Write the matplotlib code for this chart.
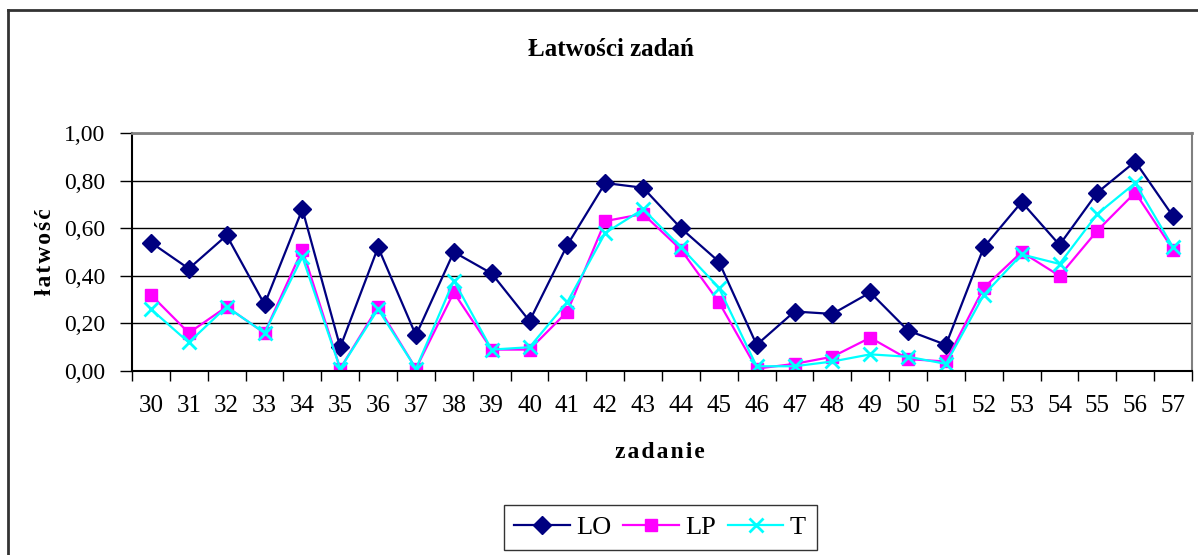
import matplotlib
matplotlib.use("Agg")
import matplotlib.pyplot as plt
from matplotlib.lines import Line2D
from matplotlib.ticker import FuncFormatter, FixedLocator

plt.rcParams["font.family"] = ["Liberation Serif", "DejaVu Serif"]

zadania = [str(n) for n in range(30, 58)]

lo = [0.54, 0.43, 0.57, 0.28, 0.68, 0.10, 0.52, 0.15, 0.50, 0.41,
      0.21, 0.53, 0.79, 0.77, 0.60, 0.46, 0.11, 0.25, 0.24, 0.33,
      0.17, 0.11, 0.52, 0.71, 0.53, 0.75, 0.88, 0.65]
lp = [0.32, 0.16, 0.27, 0.16, 0.51, 0.01, 0.27, 0.01, 0.33, 0.09,
      0.09, 0.25, 0.63, 0.66, 0.51, 0.29, 0.01, 0.03, 0.06, 0.14,
      0.05, 0.04, 0.35, 0.50, 0.40, 0.59, 0.75, 0.51]
t = [0.26, 0.12, 0.27, 0.16, 0.48, 0.01, 0.26, 0.01, 0.38, 0.09,
     0.10, 0.29, 0.58, 0.68, 0.52, 0.35, 0.02, 0.02, 0.04, 0.07,
     0.06, 0.03, 0.32, 0.49, 0.45, 0.66, 0.79, 0.52]

fig = plt.figure(figsize=(11.98, 5.55), dpi=100)
ax = fig.add_axes([0.1102, 0.3315, 0.8848, 0.4288])

x = list(range(len(zadania)))
ax.plot(x, lo, color="#000080", lw=1.6, marker="D", markersize=9, label="LO")
ax.plot(x, lp, color="#FF00FF", lw=1.6, marker="s", markersize=8.5, label="LP")
ax.plot(x, t, color="#00FFFF", lw=1.6, marker="x", markersize=10, mew=2, label="T")

ax.set_xlim(-0.5, len(zadania) - 0.5)
ax.set_ylim(0, 1)
ax.set_yticks([0, 0.2, 0.4, 0.6, 0.8, 1.0])
ax.yaxis.set_major_formatter(FuncFormatter(lambda v, p: ("%.2f" % v).replace(".", ",")))
ax.grid(axis="y", color="black", lw=1)
ax.set_axisbelow(True)

ax.xaxis.set_major_locator(FixedLocator([i - 0.5 for i in range(len(zadania) + 1)]))
ax.xaxis.set_major_formatter(FuncFormatter(lambda v, p: ""))
ax.xaxis.set_minor_locator(FixedLocator(x))
ax.set_xticklabels(zadania, minor=True)
ax.tick_params(axis="x", which="major", length=7, width=1, direction="out")
ax.tick_params(axis="x", which="minor", length=0, pad=17, labelsize=18)
ax.tick_params(axis="y", length=9, width=1, labelsize=17, pad=10)

ax.spines["top"].set_color("#808080")
ax.spines["right"].set_color("#808080")
ax.spines["top"].set_linewidth(2)
ax.spines["right"].set_linewidth(1.5)
ax.spines["left"].set_linewidth(1.5)
ax.spines["bottom"].set_linewidth(1.5)

fig.text(0.51, 0.91, "Łatwości zadań", ha="center", va="center",
         fontsize=18, fontweight="bold")
fig.text(0.0376, 0.546, "\u200a".join("łatwość"), ha="center", va="center",
         rotation=90, fontsize=17, fontweight="bold")
fig.text(0.551, 0.184, "\u200a".join("zadanie"), ha="center", va="center",
         fontsize=17, fontweight="bold")

leg = fig.legend(loc="center", bbox_to_anchor=(0.551, 0.0495), ncol=3,
                 fontsize=19, frameon=True, fancybox=False, handlelength=2.1,
                 handletextpad=0.25, columnspacing=0.45, borderpad=0.4,
                 borderaxespad=0)
leg.get_frame().set_edgecolor("black")
leg.get_frame().set_linewidth(1)

# outer chart frame
fig.add_artist(Line2D([8 / 1198, 8 / 1198], [0, 1 - 10 / 555], color="#333333",
                      lw=2, transform=fig.transFigure))
fig.add_artist(Line2D([8 / 1198, 1], [1 - 10 / 555, 1 - 10 / 555], color="#333333",
                      lw=2, transform=fig.transFigure))

fig.savefig("out.png", dpi=100)
